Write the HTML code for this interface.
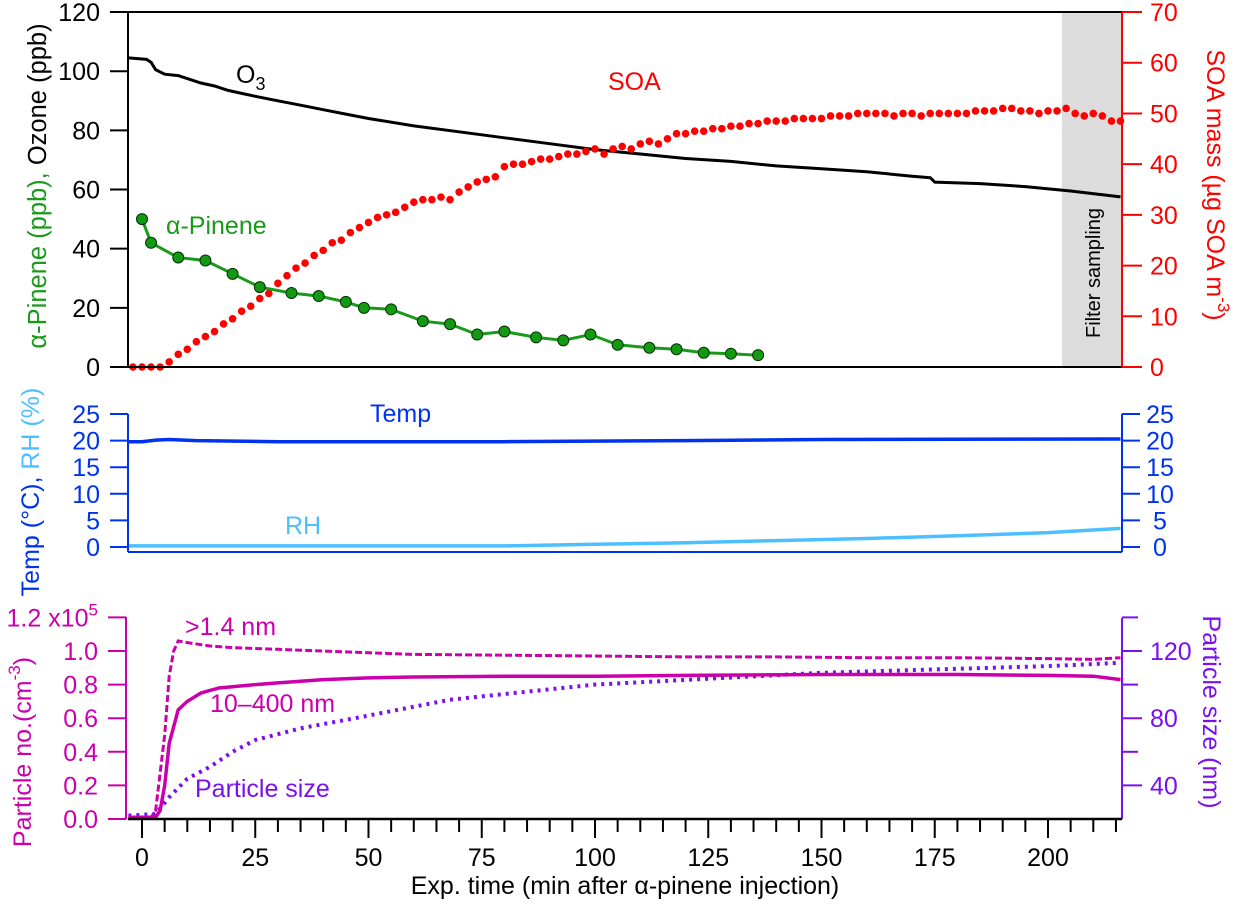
<!DOCTYPE html>
<html><head><meta charset="utf-8"><style>
html,body{margin:0;padding:0;background:#fff;}
svg{display:block;font-family:"Liberation Sans",Arial,sans-serif;}
</style></head><body>
<svg id="chart" width="1238" height="908" viewBox="0 0 1238 908" xmlns="http://www.w3.org/2000/svg">
<rect x="1062" y="12" width="60" height="355" fill="#dcdcdc"/>
<g id="marks"></g>
<g id="axes"></g>
</svg>
<script>
// ---- data ----
const o3Time=[-3,1,2,3,5,8,10,13,16,19,22,25,30,35,40,45,50,60,70,80,90,100,110,120,130,140,150,160,170,174,175,185,195,205,216];
const o3Vals=[104.5,104,103,100.5,99,98.5,97.5,96,95,93.5,92.5,91.5,90,88.5,87,85.5,84,81.5,79.5,77.5,75.5,73.5,72,70.5,69.5,68,67,66,64.5,64,62.5,62,61,59.5,57.5];
const soaStart=-2, soaStep=2;
const soaVals=[0,0,0,0,1,2.5,3.5,5,6,7,8.5,9.5,11,12,13.5,14.5,16.5,18,19.5,20.5,22,23,24.5,25,26.5,27.5,28.5,29.5,30,30.5,31.5,32.5,33,33,33.5,33,34.5,35.5,36.5,37,37.5,39.5,40,40,40.5,41,41,41.5,42,42,42.5,43,42,43,43.5,43,44,44.5,44,45,46,46,46.5,46.5,47,47,47.5,47.5,48,48,48.5,48.5,48.5,49,49,49,49,49.5,49.5,49.5,50,50,50,50,49.5,50,50,49.5,50,50,50,50,50,50.5,50.5,50.5,51,51,50.5,50.5,50,50.5,50.5,51,50,49.5,50,49.5,48.5,48.5];
const pinTime=[0,2,8,14,20,26,33,39,45,49,55,62,68,74,80,87,93,99,105,112,118,124,130,136];
const pinVals=[50,42,37,36,31.5,27,25,24,22,20,19.5,15.5,14.5,11,12,10,9,11,7.5,6.5,6,4.8,4.5,4];
const tempTime=[-3,0,3,6,12,30,80,120,150,216];
const tempVals=[19.8,19.8,20.1,20.2,20.0,19.8,19.8,20.0,20.2,20.3];
const rhTime=[-3,80,100,120,140,160,180,200,216];
const rhVals=[0.2,0.2,0.5,0.8,1.2,1.6,2.1,2.7,3.5];
const pTotTime=[-3,2,3,5,6,7,8,10,15,20,30,40,50,60,80,100,120,140,160,180,200,210,216];
const pTotVals=[0.01,0.01,0.05,0.5,0.85,1.0,1.06,1.05,1.03,1.02,1.01,1.0,0.99,0.98,0.975,0.97,0.965,0.965,0.96,0.96,0.955,0.95,0.96];
const p10Time=[-3,3,4,5,6,8,10,13,17,25,30,40,50,60,80,100,120,150,180,200,210,216];
const p10Vals=[0.01,0.01,0.05,0.2,0.45,0.65,0.7,0.75,0.78,0.8,0.81,0.83,0.84,0.845,0.85,0.85,0.855,0.86,0.86,0.855,0.85,0.83];
const sizeTime=[-3,3,6,10,15,20,25,35,47,68,100,150,200,216];
const sizeVals=[22,23,33,44,51,60,67,74,80,91,100,107,111,113];
const xTicks=[0,25,50,75,100,125,150,175,200];
const o3Ticks=[0,20,40,60,80,100,120];
const soaTicks=[0,10,20,30,40,50,60,70];
const tTicks=[0,5,10,15,20,25];
const pnTicks=[0,0.2,0.4,0.6,0.8,1.0,1.2];
const szTicks=[40,80,120];

// ---- scales ----
const X=t=>142+4.53*t;
const Yo=v=>367-v*2.958;
const Ys=v=>367-v*5.071;
const Yt=v=>547-v*5.32;
const Yp=v=>819-v*168;
const Yz=v=>819-(v-20)*1.68;
const NS='http://www.w3.org/2000/svg';
const marks=document.getElementById('marks'), axes=document.getElementById('axes');
function el(tag,attrs,parent){const e=document.createElementNS(NS,tag);for(const k in attrs)e.setAttribute(k,attrs[k]);(parent||marks).appendChild(e);return e;}
function pts(ts,vs,ys){return ts.map((t,i)=>X(t).toFixed(1)+','+ys(vs[i]).toFixed(1)).join(' ');}

let l;
l=el('polyline',{points:pts(sizeTime,sizeVals,Yz),fill:'none',stroke:'#7a10ee','stroke-width':4,'stroke-dasharray':'3 5'});

l=el('polyline',{points:pts(pTotTime,pTotVals,Yp),fill:'none',stroke:'#cc00aa','stroke-width':3,'stroke-dasharray':'7 3'});

l=el('polyline',{points:pts(p10Time,p10Vals,Yp),fill:'none',stroke:'#cc00aa','stroke-width':3.5});

l=el('polyline',{points:pts(tempTime,tempVals,Yt),fill:'none',stroke:'#0033ee','stroke-width':3.5});

l=el('polyline',{points:pts(rhTime,rhVals,Yt),fill:'none',stroke:'#4cc0ff','stroke-width':3.5});

l=el('polyline',{points:pts(o3Time,o3Vals,Yo),fill:'none',stroke:'#000','stroke-width':3});

soaVals.forEach((v,i)=>{const c=el('circle',{cx:X(soaStart+i*soaStep),cy:Ys(v),r:3.8,fill:'#ff0000'});
});
l=el('polyline',{points:pts(pinTime,pinVals,Yo),fill:'none',stroke:'#1a9a1a','stroke-width':3});

pinTime.forEach((t,i)=>{const c=el('circle',{cx:X(t),cy:Yo(pinVals[i]),r:5.5,fill:'#129a12',stroke:'#053005','stroke-width':1});
});

function line(x1,y1,x2,y2,c,w,name){const e=el('line',{x1,y1,x2,y2,stroke:c,'stroke-width':w||2},axes);return e;}
function txt(x,y,s,c,anchor,size,name){const e=el('text',{x,y,fill:c,'font-size':size||24,'text-anchor':anchor||'middle'},axes);e.textContent=s;return e;}
line(110,12,1122,12,'#000',2,'top-panel-frame-top');
line(128,12,128,367,'#000',2,'ozone-axis');
line(128,367,1122,367,'#000',2,'top-panel-frame-bottom');
line(1122,12,1122,367,'#ff0000',2,'soa-axis');
o3Ticks.forEach(v=>{line(110,Yo(v),128,Yo(v),'#000',2,'ozone-tick');txt(100,Yo(v)+9,String(v),'#000','end',25,'ozone-tick-label');});
soaTicks.forEach(v=>{line(1122,Ys(v),1142,Ys(v),'#ff0000',2,'soa-tick');txt(1150,Ys(v)+9,String(v),'#ff0000','start',25,'soa-tick-label');});
line(128,414,128,552,'#0033ee',2,'temp-axis-left');
line(128,552,1122,552,'#0033ee',2,'middle-panel-bottom');
line(1122,414,1122,552,'#0033ee',2,'temp-axis-right');
tTicks.forEach(v=>{line(110,Yt(v),128,Yt(v),'#0033ee',2,'temp-tick');txt(100,Yt(v)+9,String(v),'#0033ee','end',25,'temp-tick-label');
line(1122,Yt(v),1140,Yt(v),'#0033ee',2,'temp-tick-right');txt(1160,Yt(v)+9,String(v),'#0033ee','middle',25,'temp-tick-label-right');});
line(126,617,126,819,'#cc00aa',2,'particle-no-axis');
pnTicks.forEach(v=>{line(108,Yp(v),126,Yp(v),'#cc00aa',2,'particle-no-tick');if(v<1.1)txt(98,Yp(v)+9,v.toFixed(1),'#cc00aa','end',25,'particle-no-tick-label');});
txt(98,Yp(1.2)+9,'1.2 x10','#cc00aa','end',25,'particle-no-top-label').innerHTML='1.2 x10<tspan dy="-11" font-size="17">5</tspan>';
line(1122,618,1122,819,'#7a10ee',2,'particle-size-axis');
[60,100,140].forEach(v=>line(1122,Yz(v),1138,Yz(v),'#7a10ee',2,'particle-size-minor-tick'));
szTicks.forEach(v=>{line(1122,Yz(v),1142,Yz(v),'#7a10ee',2,'particle-size-tick');txt(1150,Yz(v)+9,String(v),'#7a10ee','start',25,'particle-size-tick-label');});
line(128,819,1122,819,'#000',2.5,'x-axis');
for(let t=0;t<=215;t+=5){const major=t%25===0;line(X(t),819,X(t),major?838:832,'#000',2,major?'x-major-tick':'x-minor-tick');}
xTicks.forEach(t=>txt(X(t),866,String(t),'#000','middle',25,'x-tick-label'));
</script>
<div style="position:absolute;left:0;top:0;width:1238px;height:908px;pointer-events:none">
<svg width="1238" height="908" style="position:absolute;left:0;top:0;font-family:'Liberation Sans',Arial,sans-serif">
<text x="625" y="894" font-size="25" text-anchor="middle" fill="#000">Exp.  time (min after α-pinene injection)</text>
<text transform="translate(46,186) rotate(-90)" font-size="25.5" text-anchor="middle"><tspan fill="#1a9a1a">α-Pinene (ppb), </tspan><tspan fill="#000">Ozone (ppb)</tspan></text>
<text transform="translate(39,492) rotate(-90)" font-size="25" text-anchor="middle"><tspan fill="#0033ee">Temp (°C), </tspan><tspan fill="#4cc0ff">RH (%)</tspan></text>
<text transform="translate(31,752) rotate(-90)" font-size="25" text-anchor="middle" fill="#cc00aa">Particle no.(cm<tspan dy="-11" font-size="17">-3</tspan><tspan dy="11">)</tspan></text>
<text transform="translate(1207,185) rotate(90)" font-size="25" text-anchor="middle" fill="#ff0000">SOA mass (µg SOA m<tspan dy="-11" font-size="17">-3</tspan><tspan dy="11">)</tspan></text>
<text transform="translate(1203,712) rotate(90)" font-size="25" text-anchor="middle" fill="#7a10ee">Particle size (nm)</text>
<text transform="translate(1100,273) rotate(-90)" font-size="20" text-anchor="middle" fill="#000">Filter sampling</text>
<text x="236" y="83" font-size="25" fill="#000">O<tspan dy="7" font-size="18">3</tspan></text>
<text x="608" y="90" font-size="25" fill="#ff0000">SOA</text>
<text x="166" y="234" font-size="25" fill="#1a9a1a">α-Pinene</text>
<text x="370" y="422" font-size="25" fill="#0033ee">Temp</text>
<text x="285" y="534" font-size="25" fill="#4cc0ff">RH</text>
<text x="185" y="635" font-size="25" fill="#cc00aa">&gt;1.4 nm</text>
<text x="210" y="712" font-size="25" fill="#cc00aa">10–400 nm</text>
<text x="195" y="797" font-size="25" fill="#7a10ee">Particle size</text>
</svg></div>
</body></html>
